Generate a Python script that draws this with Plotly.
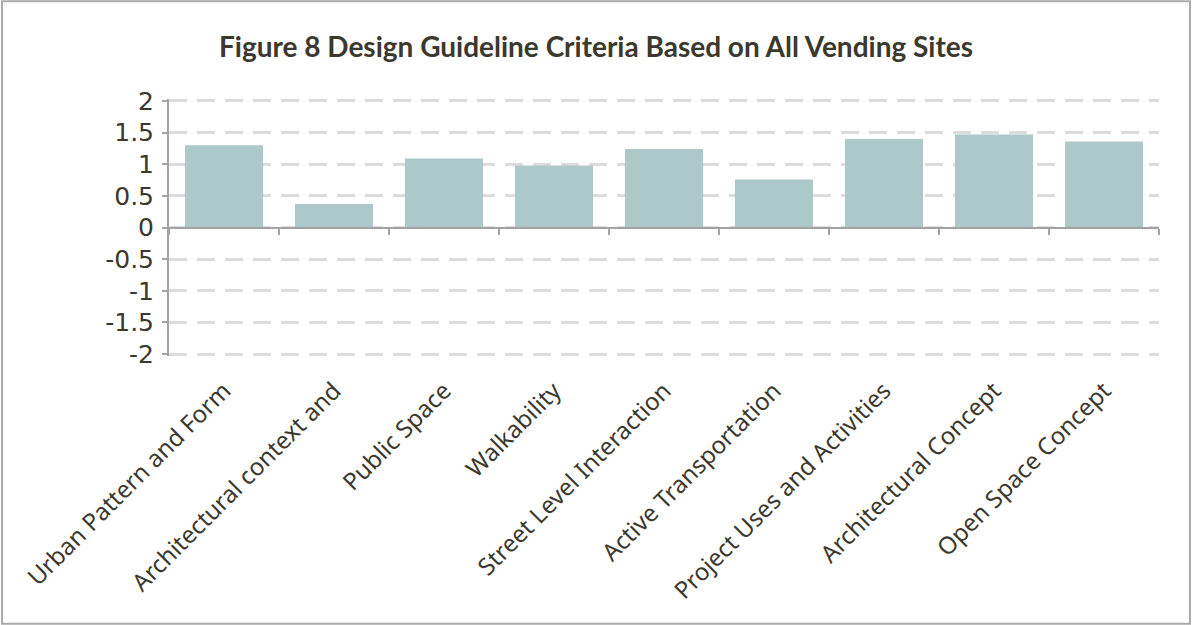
import plotly.graph_objects as go

# Design guideline criteria and their average scores across all vending sites
categories = [
    "Urban Pattern and Form",
    "Architectural context and",
    "Public Space",
    "Walkability",
    "Street Level Interaction",
    "Active Transportation",
    "Project Uses and Activities",
    "Architectural Concept",
    "Open Space Concept",
]
scores = [1.30, 0.37, 1.09, 0.98, 1.24, 0.76, 1.40, 1.47, 1.36]

y_tick_vals = [-2, -1.5, -1, -0.5, 0, 0.5, 1, 1.5, 2]
y_tick_text = ["-2", "-1.5", "-1", "-0.5", "0", "0.5", "1", "1.5", "2"]

TEXT = "#3B382E"
AXIS = "#A3A3A3"
GRID = "#DCDCDC"
BAR = "#ACC8C8"

W, H = 1192, 625
# plot box for the -2..2 band, plus a small pad so the end gridlines are kept
X_LEFT, X_RIGHT = 169, 1159
Y_TOP, Y_BOTTOM = 101, 354
PAD = 0.03
unit = (Y_BOTTOM - Y_TOP) / 4.0
ML, MR = X_LEFT, W - X_RIGHT
MT = Y_TOP - PAD * unit
MB = H - Y_BOTTOM - PAD * unit
PW, PH = W - ML - MR, H - MT - MB

fig = go.Figure()

fig.add_trace(go.Bar(
    x=categories, y=scores,
    marker=dict(color=BAR, line=dict(width=0)),
    hoverinfo="x+y",
    showlegend=False,
))

# companion trace on the zero-crossing category axis (ticks only)
fig.add_trace(go.Scatter(
    x=categories, y=scores, xaxis="x2",
    mode="markers", marker=dict(opacity=0, size=1),
    hoverinfo="skip", showlegend=False,
))

fig.update_layout(
    width=W, height=H,
    margin=dict(l=ML, r=MR, t=MT, b=MB),
    paper_bgcolor="white", plot_bgcolor="white",
    bargap=0.29,
    title=dict(
        text="<b>Figure 8 Design Guideline Criteria Based on All Vending Sites</b>",
        font=dict(family="Lato", size=28, color=TEXT),
        x=0.5, xanchor="center", xref="container",
        y=1 - 47 / H, yanchor="middle", yref="container",
    ),
    xaxis=dict(
        type="category",
        showline=False, showgrid=False, zeroline=False,
        ticks="", tickangle=-45,
        ticklabelstandoff=15,
        tickfont=dict(family="Noto Sans", size=24, color=TEXT),
        range=[-0.5, len(categories) - 0.5],
        automargin=False,
    ),
    xaxis2=dict(
        type="category", overlaying="x", anchor="free", position=0.5,
        side="bottom",
        showline=True, linecolor=AXIS, linewidth=2,
        ticks="outside", tickson="boundaries", ticklen=6, tickwidth=2, tickcolor=AXIS,
        showticklabels=False, showgrid=False, zeroline=False,
        range=[-0.5, len(categories) - 0.5],
        categoryorder="array", categoryarray=categories,
    ),
    yaxis=dict(
        range=[-2 - PAD, 2 + PAD],
        tickvals=y_tick_vals, ticktext=y_tick_text,
        showline=True, linecolor=AXIS, linewidth=2,
        ticks="outside", ticklen=5, tickwidth=2, tickcolor=AXIS,
        showgrid=True, gridcolor=GRID, gridwidth=3, griddash="18px,10px",
        zeroline=False,
        tickfont=dict(family="DejaVu Sans", size=25, color=TEXT),
        ticklabelstandoff=3,
        automargin=False,
    ),
    shapes=[dict(
        type="rect", xref="paper", yref="paper",
        x0=(2 - ML) / PW, x1=(W - 2 - ML) / PW,
        y0=(H - MB - (H - 1.5)) / PH, y1=(H - MB - 1.5) / PH,
        line=dict(color="#ABABAB", width=2), fillcolor="rgba(0,0,0,0)",
        layer="below",
    )],
)

fig.write_html("out.html")
